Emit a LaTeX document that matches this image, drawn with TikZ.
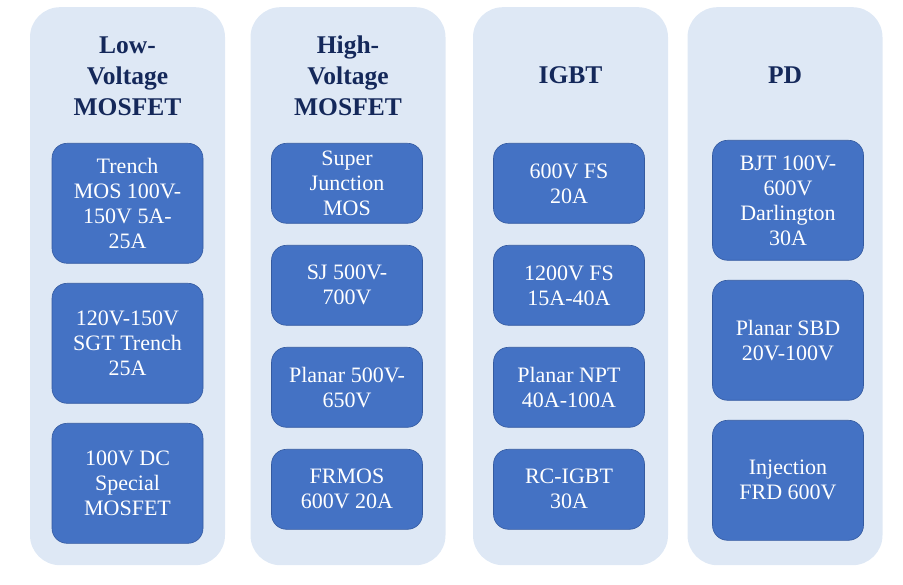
\documentclass[tikz,border=0pt]{standalone}
\usepackage{fontspec}
\setmainfont{Liberation Serif}
\definecolor{contfill}{RGB}{222,232,245}
\definecolor{itemfill}{RGB}{68,114,196}
\definecolor{itemdraw}{RGB}{52,90,160}
\definecolor{titlecol}{RGB}{20,40,90}
\begin{document}
\begin{tikzpicture}[x=1pt,y=-1pt,
  container/.style={fill=contfill, draw=none, rounded corners=30pt,
    minimum width=195pt, minimum height=558pt, inner sep=0pt, anchor=north},
  titletext/.style={text=titlecol, align=center, inner sep=0pt,
    font=\bfseries\fontsize{25.5}{31}\selectfont},
  itembox/.style={fill=itemfill, draw=itemdraw, line width=0.6pt,
    rounded corners=15pt, minimum width=151pt, inner sep=0pt, anchor=north,
    text=white, align=center, font=\fontsize{22}{25}\selectfont},
  tallbox/.style={itembox, minimum height=120pt},
  shortbox/.style={itembox, minimum height=80pt}]
\useasboundingbox (0,0) rectangle (903,585);
% containers
\node[container] (c1) at (127.5,7) {};
\node[container] (c2) at (348,7) {};
\node[container] (c3) at (570.5,7) {};
\node[container] (c4) at (785,7) {};
% titles
\node[titletext] (t1) at (127.5,76) {Low-\\Voltage\\MOSFET};
\node[titletext] (t2) at (348,76) {High-\\Voltage\\MOSFET};
\node[titletext] (t3) at (570.5,75) {IGBT};
\node[titletext] (t4) at (785,75) {PD};
% column 1
\node[tallbox] (a1) at (127.5,143) {Trench\\MOS 100V-\\150V 5A-\\25A};
\node[tallbox] (a2) at (127.5,283) {120V-150V\\SGT Trench\\25A};
\node[tallbox] (a3) at (127.5,423) {100V DC\\Special\\MOSFET};
% column 2
\node[shortbox] (b1) at (347,143) {Super\\Junction\\MOS};
\node[shortbox] (b2) at (347,245) {SJ 500V-\\700V};
\node[shortbox] (b3) at (347,347) {Planar 500V-\\650V};
\node[shortbox] (b4) at (347,449) {FRMOS\\600V 20A};
% column 3
\node[shortbox] (g1) at (569,143) {600V FS\\20A};
\node[shortbox] (g2) at (569,245) {1200V FS\\15A-40A};
\node[shortbox] (g3) at (569,347) {Planar NPT\\40A-100A};
\node[shortbox] (g4) at (569,449) {RC-IGBT\\30A};
% column 4
\node[tallbox] (p1) at (788,140) {BJT 100V-\\600V\\Darlington\\30A};
\node[tallbox] (p2) at (788,280) {Planar SBD\\20V-100V};
\node[tallbox] (p3) at (788,420) {Injection\\FRD 600V};
\end{tikzpicture}
\end{document}
